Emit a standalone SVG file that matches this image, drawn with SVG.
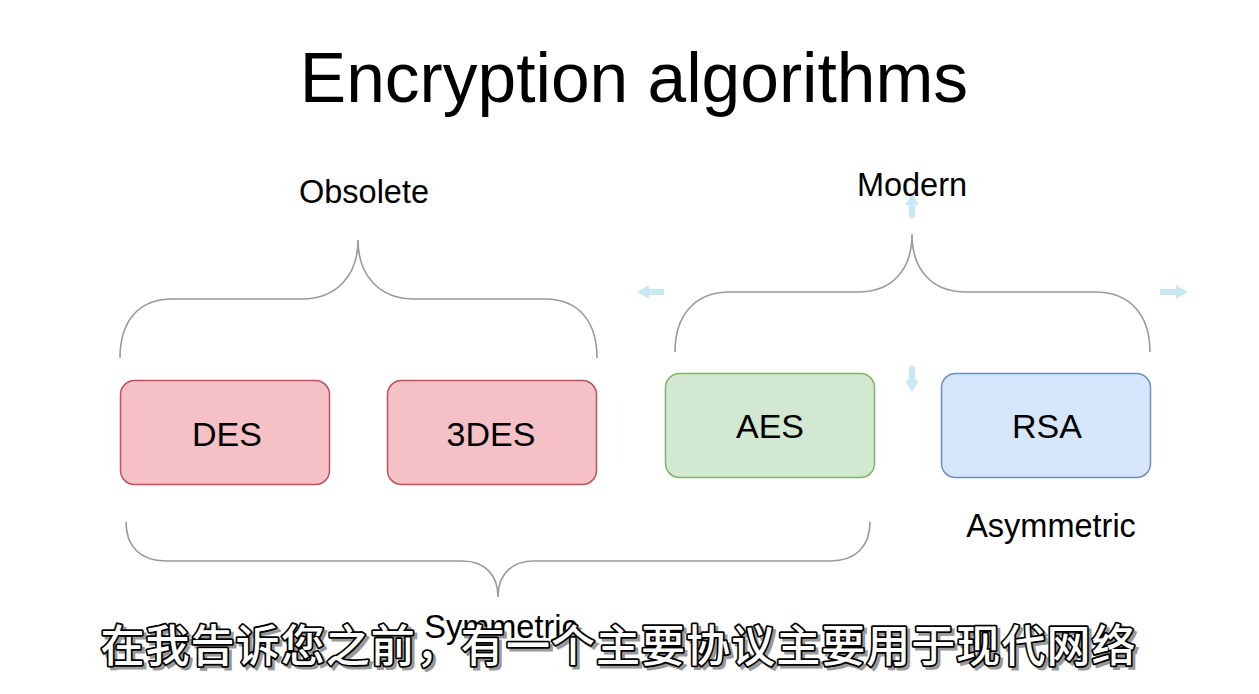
<svg xmlns="http://www.w3.org/2000/svg" width="1259" height="694" viewBox="0 0 1259 694">
<style>
.t{font-family:"Liberation Sans",Arial,Helvetica,sans-serif;fill:#000;text-anchor:middle}
.lbl{font-size:32.5px}
.box{font-size:34px}
.brace{fill:none;stroke:#9a9a9a;stroke-width:1.6}
.handle{fill:#c9e8f6}
.sub{font-family:"Noto Sans CJK SC","Noto Sans CJK TC",sans-serif;font-size:44px;font-weight:500;text-anchor:middle}
</style>
<rect x="0" y="0" width="1259" height="694" fill="#ffffff"/>
<text id="title" class="t" x="634" y="102" font-size="69.5">Encryption algorithms</text>

<g id="connectors">
  <path id="brace-obsolete" class="brace" d="M120,358 C120,322 138,299 172,299 L302,299 C336,299 358,276 358,240 C358,276 380,299 414,299 L545,299 C579,299 597,322 597,358"/>
  <path id="brace-modern" class="brace" d="M675,352 C675,316 694,292 730,292 L858,292 C892,292 912,270 912,234 C912,270 932,292 966,292 L1095,292 C1131,292 1150,316 1150,352"/>
  <path id="brace-symmetric" class="brace" d="M126,522 C126,546 140,561 166,561 L462,561 C486,561 498,576 498,597 C498,576 510,561 534,561 L830,561 C856,561 870,546 870,522"/>
</g>

<g id="handles">
  <polygon class="handle" points="912,193 919,205 915,205 915,218 909,218 909,205 905,205"/>
  <polygon class="handle" points="912,392 919,380 915,380 915,366 909,366 909,380 905,380"/>
  <polygon class="handle" points="637,292 649,285 649,289 664,289 664,295 649,295 649,299"/>
  <polygon class="handle" points="1188,292 1176,285 1176,289 1160,289 1160,295 1176,295 1176,299"/>
</g>

<g id="label-obsolete"><text class="t lbl" x="364" y="203">Obsolete</text></g>
<g id="label-modern"><text class="t lbl" x="912" y="196">Modern</text></g>
<g id="label-asymmetric"><text class="t lbl" x="1051" y="537">Asymmetric</text></g>
<g id="label-symmetric"><text class="t lbl" x="501" y="638">Symmetric</text></g>

<g id="node-des">
  <rect x="120.5" y="380.5" width="209" height="104" rx="14" fill="#f5c1c7" stroke="#b85460" stroke-width="1.5"/>
  <text class="t box" x="227" y="446">DES</text>
</g>
<g id="node-3des">
  <rect x="387.5" y="380.5" width="209" height="104" rx="14" fill="#f5c1c7" stroke="#b85460" stroke-width="1.5"/>
  <text class="t box" x="491" y="446">3DES</text>
</g>
<g id="node-aes">
  <rect x="665.5" y="373.5" width="209" height="104" rx="14" fill="#d3e8d1" stroke="#82b366" stroke-width="1.5"/>
  <text class="t box" x="770" y="438">AES</text>
</g>
<g id="node-rsa">
  <rect x="941.5" y="373.5" width="209" height="104" rx="14" fill="#d6e6fb" stroke="#6c8ebf" stroke-width="1.5"/>
  <text class="t box" x="1047" y="438">RSA</text>
</g>

<g id="subtitle">
  <text class="sub" x="621" y="665" fill="#999" stroke="#999" stroke-width="3" textLength="1035" lengthAdjust="spacing">在我告诉您之前，有一个主要协议主要用于现代网络</text>
  <text class="sub" x="618" y="662" fill="#fff" stroke="#000" stroke-width="3.5" stroke-linejoin="round" paint-order="stroke" textLength="1035" lengthAdjust="spacing">在我告诉您之前，有一个主要协议主要用于现代网络</text>
</g>
</svg>
